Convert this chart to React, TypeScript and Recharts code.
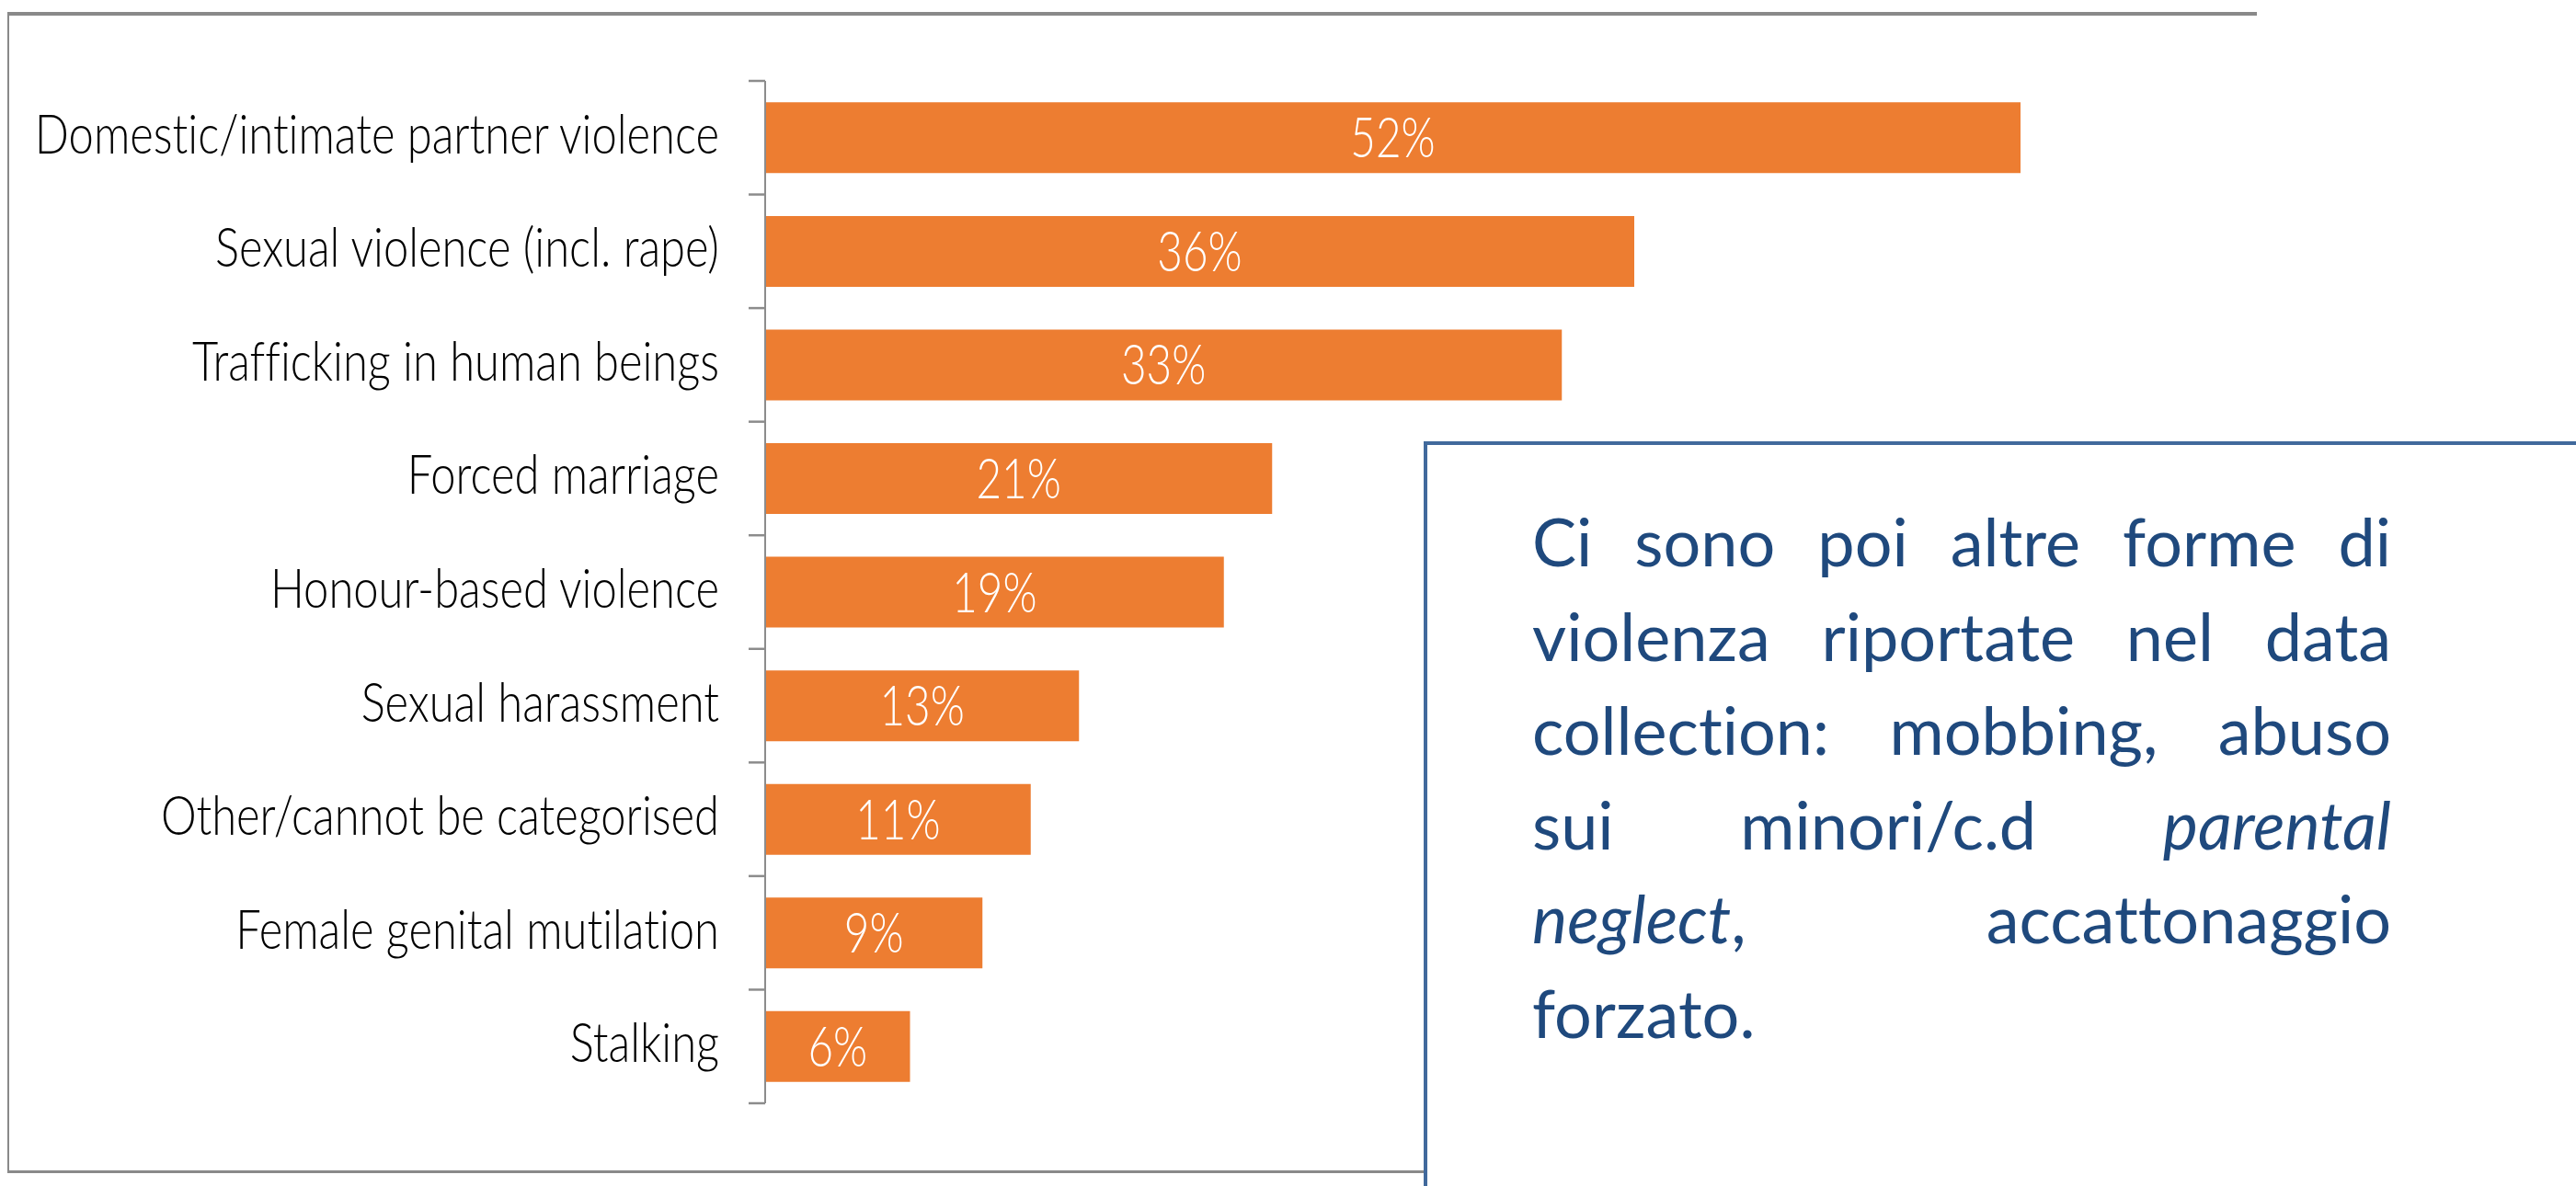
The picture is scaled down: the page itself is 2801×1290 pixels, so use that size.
import React from "react";
import { BarChart, Bar, XAxis, YAxis, LabelList } from "recharts";

const categories = [
  "Domestic/intimate partner violence",
  "Sexual violence (incl. rape)",
  "Trafficking in human beings",
  "Forced marriage",
  "Honour-based violence",
  "Sexual harassment",
  "Other/cannot be categorised",
  "Female genital mutilation",
  "Stalking",
];
const values = [52, 36, 33, 21, 19, 13, 11, 9, 6];
const xDomain = [0, 60];

const noteLines = [
  [{ t: "Ci sono poi altre forme di" }],
  [{ t: "violenza riportate nel data" }],
  [{ t: "collection: mobbing, abuso" }],
  [{ t: "sui minori/c.d " }, { t: "parental", i: true }],
  [{ t: "neglect", i: true }, { t: ", accattonaggio" }],
  [{ t: "forzato." }],
];

const data = categories.map((name, i) => ({ name, value: values[i] }));

const AXIS_GREY = "#8c8c8c";
const BAR_ORANGE = "#ED7D31";
const LABEL_FONT = "Lato, 'Open Sans', sans-serif";
const SX = 0.815;
const noLig: React.CSSProperties = { fontVariantLigatures: "none", fontFeatureSettings: '"liga" 0, "dlig" 0, "clig" 0' };

const CategoryTick = (props: any) => {
  const { x, y, payload, index, visibleTicksCount } = props;
  const off = payload && payload.offset ? payload.offset : 61.8;
  const last = index === (visibleTicksCount ?? categories.length) - 1;
  return (
    <g>
      <line x1={x - 18} x2={x} y1={y - off} y2={y - off} stroke={AXIS_GREY} strokeWidth={2.5} />
      {last && <line x1={x - 18} x2={x} y1={y + off} y2={y + off} stroke={AXIS_GREY} strokeWidth={2.5} />}
      <g transform={`translate(${x - 50},${y + 17}) scale(${SX},1)`}>
        <text textAnchor="end" fill="#000" fontSize={60} fontFamily={LABEL_FONT} fontWeight={300} style={noLig}>
          {payload.value}
        </text>
      </g>
    </g>
  );
};

const BarValueLabel = (props: any) => {
  const { x, y, width, height, value } = props;
  const cx = Number(x) + Number(width) / 2;
  const cy = Number(y) + Number(height) / 2;
  return (
    <g transform={`translate(${cx},${cy + 21.5}) scale(0.78,1)`}>
      <text textAnchor="middle" fill="#fff" fontSize={61} fontFamily={LABEL_FONT} fontWeight={300} style={noLig}>
        {`${value}%`}
      </text>
    </g>
  );
};

export default function App() {
  return (
    <div style={{ position: "absolute", left: 0, top: 0, width: 2801, height: 1290, background: "#fff", overflow: "hidden" }}>
      <div style={{ position: "absolute", left: 0, top: 0 }}>
        <BarChart
          layout="vertical"
          width={2801}
          height={1290}
          data={data}
          margin={{ top: 88, right: 394, bottom: 90, left: 0 }}
          barCategoryGap="18.9%"
        >
          <XAxis type="number" domain={xDomain} hide />
          <YAxis
            type="category"
            dataKey="name"
            width={832}
            interval={0}
            axisLine={{ stroke: AXIS_GREY, strokeWidth: 2 }}
            tickLine={false}
            tickSize={0}
            tickMargin={0}
            tick={<CategoryTick />}
          />
          <Bar dataKey="value" fill={BAR_ORANGE} isAnimationActive={false}>
            <LabelList dataKey="value" content={<BarValueLabel />} />
          </Bar>
        </BarChart>
      </div>
      {/* chart frame */}
      <div style={{ position: "absolute", left: 8, top: 13, width: 2446, height: 4, background: "#898989" }} />
      <div style={{ position: "absolute", left: 8, top: 13, width: 2, height: 1263, background: "#898989" }} />
      <div style={{ position: "absolute", left: 8, top: 1273, width: 1545, height: 3, background: "#898989" }} />
      {/* note box */}
      <div
        style={{
          position: "absolute",
          left: 1548,
          top: 480,
          width: 1400,
          height: 1000,
          borderTop: "4px solid #41699C",
          borderLeft: "4px solid #41699C",
          background: "#fff",
        }}
      />
      <div
        style={{
          position: "absolute",
          left: 1666,
          top: 537,
          width: 934,
          fontFamily: "Lato, sans-serif",
          fontSize: 72,
          lineHeight: "102.6px",
          color: "#1F497D",
          ...noLig,
        }}
      >
        {noteLines.map((line, i) => (
          <div
            key={i}
            style={{
              textAlign: i === noteLines.length - 1 ? "left" : "justify",
              textAlignLast: i === noteLines.length - 1 ? "left" : "justify",
              height: 102.6,
            }}
          >
            {line.map((seg, j) =>
              seg.i ? <i key={j}>{seg.t}</i> : <span key={j}>{seg.t}</span>
            )}
          </div>
        ))}
      </div>
    </div>
  );
}
